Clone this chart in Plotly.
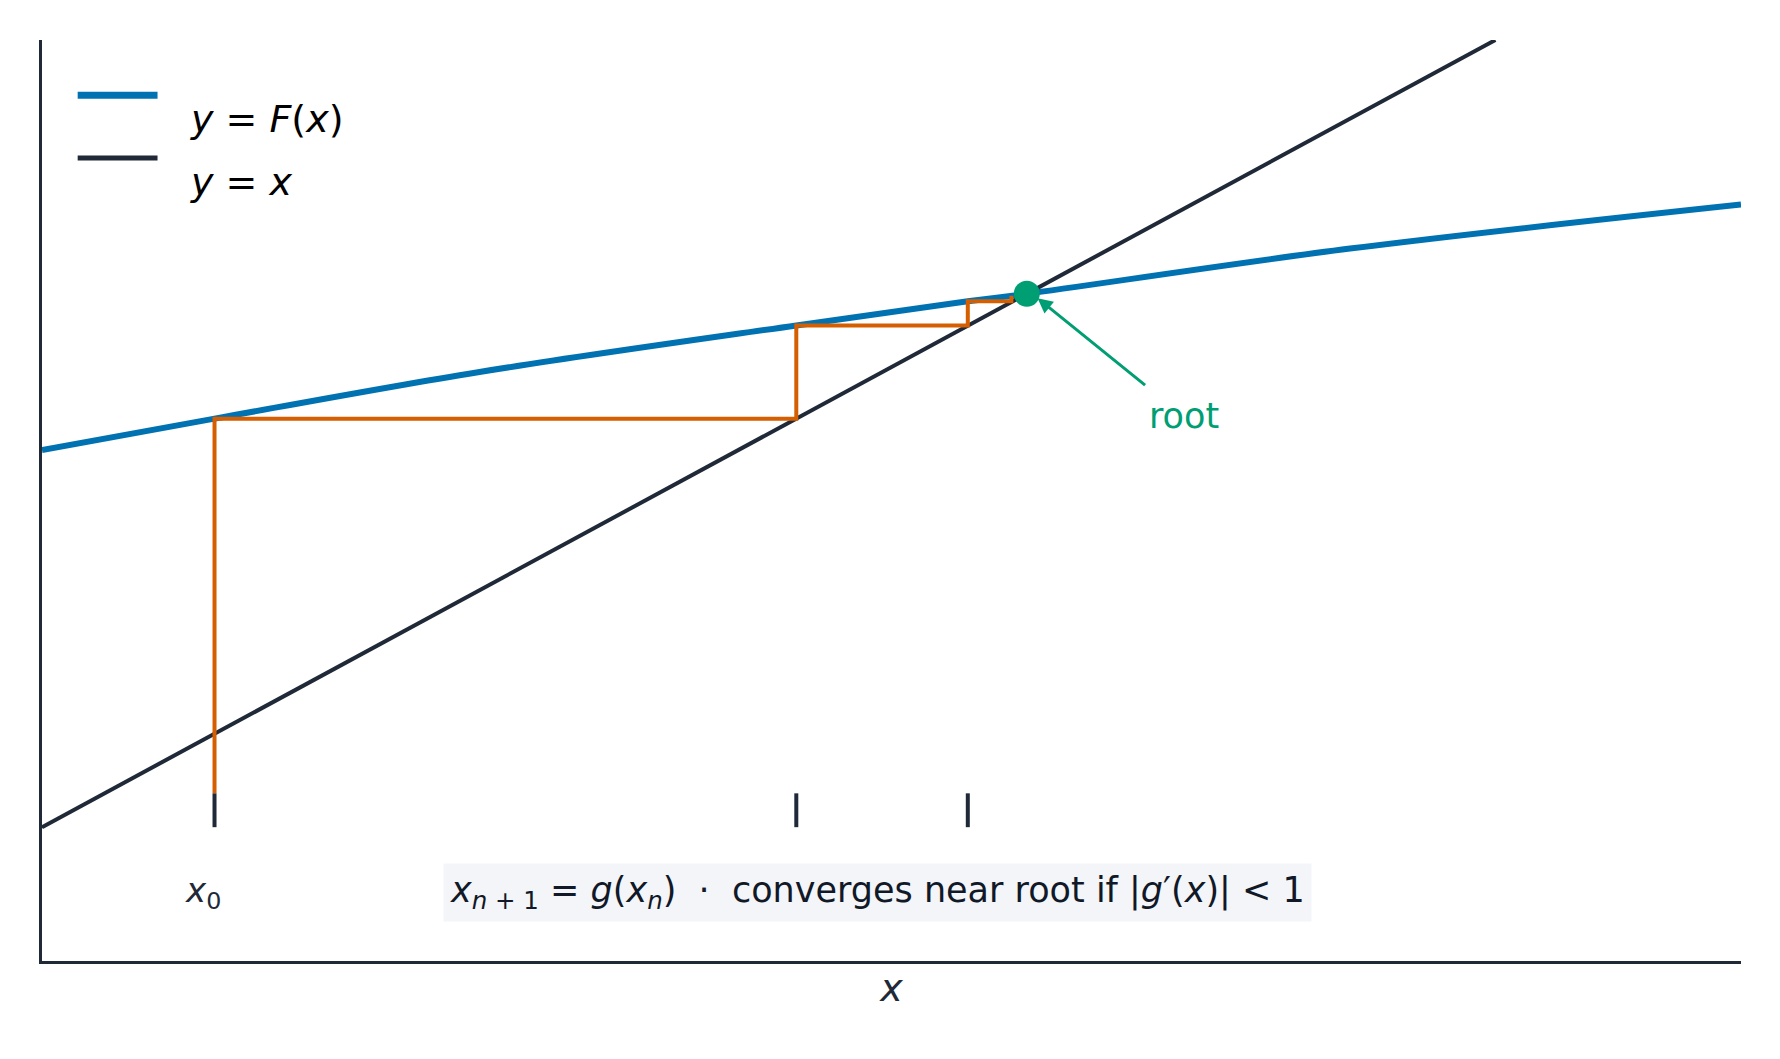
import plotly.graph_objects as go

# curve samples
fx = [0.0, 1.187, 3.0, 5.19, 6.37, 6.776, 9.0, 11.69]
fy = [4.79, 5.19, 5.78, 6.374, 6.68, 6.776, 7.35, 7.91]
# identity line
ix = [0.0, 10.0]
# iterates
iters = [1.187, 5.19, 6.37, 6.67]
iter_f = [5.19, 6.374, 6.68, 6.75]
root = (6.776, 6.776)
legend_labels = ["<i>y</i> = <i>F</i>(<i>x</i>)", "<i>y</i> = <i>x</i>"]

DARK = "#1f2937"
BLUE = "#0072b2"
fig = go.Figure()
fig.add_trace(go.Scatter(x=fx, y=fy, mode="lines", line=dict(color=BLUE, width=6, shape="spline"), showlegend=False))
fig.add_trace(go.Scatter(x=ix, y=ix, mode="lines", line=dict(color=DARK, width=4), showlegend=False))

# cobweb path
cx, cy = [iters[0]], [0.43]
for i in range(len(iters)):
    cx.append(iters[i]); cy.append(iter_f[i])
    if i + 1 < len(iters):
        cx.append(iters[i + 1]); cy.append(iter_f[i])
fig.add_trace(go.Scatter(x=cx, y=cy, mode="lines", line=dict(color="#d55e00", width=4), showlegend=False))

# tick marks
for xv in iters[:3]:
    fig.add_trace(go.Scatter(x=[xv, xv], y=[0.0, 0.43], mode="lines", line=dict(color=DARK, width=4), showlegend=False))

fig.add_trace(go.Scatter(x=[root[0]], y=[root[1]], mode="markers", marker=dict(color="#009e73", size=26), showlegend=False))

# manual legend
for lbl, col, w, yy in [(legend_labels[0], BLUE, 7, 0.940), (legend_labels[1], DARK, 5, 0.872)]:
    fig.add_shape(type="line", xref="paper", yref="paper", x0=0.021, x1=0.068, y0=yy, y1=yy,
                  line=dict(color=col, width=w))
    fig.add_annotation(xref="paper", yref="paper", x=0.086, y=yy, text=lbl, showarrow=False,
                       xanchor="left", font=dict(size=38, color="black"))

fig.add_annotation(x=6.85, y=6.72, ax=7.6, ay=5.6, axref="x", ayref="y", xref="x", yref="y",
                   showarrow=True, arrowhead=2, arrowsize=1, arrowwidth=3, arrowcolor="#009e73", text="")
fig.add_annotation(x=7.6, y=5.22, text="root", showarrow=False, xanchor="left",
                   font=dict(color="#009e73", size=35))
fig.add_annotation(x=1.11, y=-0.83, text="<i>x</i><sub>0</sub>", showarrow=False, font=dict(color=DARK, size=34))
fig.add_annotation(x=5.75, y=-0.83, showarrow=False, bgcolor="#f3f5f8", borderpad=6, font=dict(color="#111827", size=35),
                   text="<i>x</i><sub><i>n</i> + 1</sub> = <i>g</i>(<i>x</i><sub><i>n</i></sub>)  ·  converges near root if |<i>g</i>′(<i>x</i>)| < 1")

fig.update_layout(
    width=1780, height=1059, plot_bgcolor="white", paper_bgcolor="white",
    margin=dict(l=34, r=47, t=32, b=106),
    font=dict(family="DejaVu Sans", color=DARK),
    showlegend=False,
    xaxis=dict(range=[0, 11.69], showgrid=False, zeroline=False, showticklabels=False, ticks="",
               showline=True, linecolor=DARK, linewidth=3,
               title=dict(text="<i>x</i>", font=dict(size=38, color=DARK), standoff=12)),
    yaxis=dict(range=[-1.70, 10.0], showgrid=False, zeroline=False, showticklabels=False, ticks="",
               showline=True, linecolor=DARK, linewidth=3),
)
fig.write_html("out.html")
